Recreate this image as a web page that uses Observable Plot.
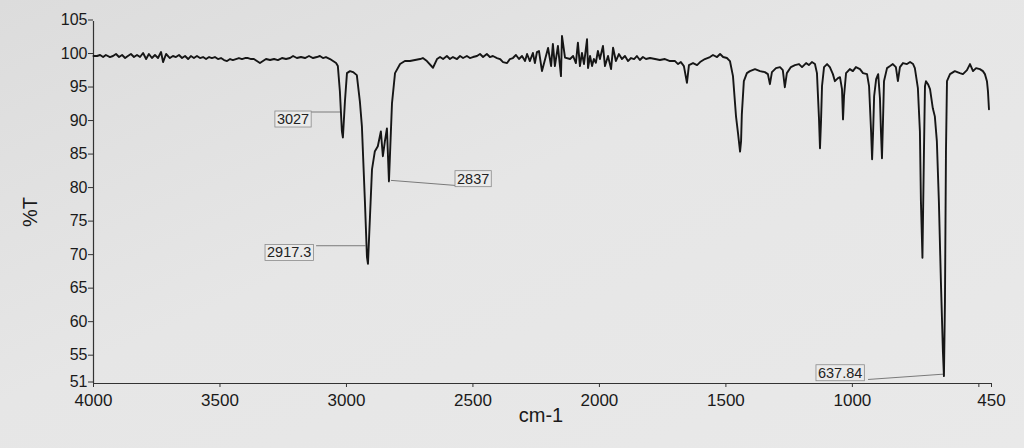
<!DOCTYPE html>
<html>
<head>
<meta charset="utf-8">
<script src="https://cdn.jsdelivr.net/npm/d3@7"></script>
<script src="https://cdn.jsdelivr.net/npm/@observablehq/plot@0.6"></script>
<style>
  html, body { margin: 0; padding: 0; }
  body { width: 1024px; height: 448px; overflow: hidden;
         background: linear-gradient(to bottom right, #dcdcdc, #e6e6e6 45%, #e9e9e9); }
  #chart { position: absolute; left: 0; top: 0; }
</style>
</head>
<body>
<div id="chart"></div>
<script>
// ---- spectrum (wavenumber cm-1, %T) ----
const wavenumber = [
  4000,3986,3974,3962,3951,3935,3923,3911,3899,3887,3875,3864,3852,3840,3828,3816,3804,3792,3781,3769,
  3757,3745,3733,3725,3713,3698,3686,3674,3662,3650,3638,3626,3615,3603,3591,3579,3567,3555,3543,3532,
  3520,3508,3496,3484,3472,3460,3449,3437,3425,3413,3401,3389,3377,3366,3354,3342,3330,3318,3302,3286,
  3271,3255,3239,3223,3211,3196,3180,3164,3148,3132,3117,3105,3093,3081,3065,3053,3041,3034,3026,3018,
  3014,3006,2998,2986,2974,2959,2947,2939,2927,2919,2915,2907,2899,2888,2876,2864,2856,2848,2840,2832,
  2820,2808,2788,2769,2749,2709,2698,2682,2658,2642,2630,2618,2603,2591,2579,2563,2551,2539,2524,2512,
  2500,2484,2472,2460,2445,2433,2421,2405,2393,2381,2365,2354,2342,2330,2318,2306,2294,2286,2275,2263,
  2255,2247,2239,2227,2203,2191,2184,2176,2164,2152,2148,2136,2116,2104,2093,2085,2077,2069,2061,2049,
  2045,2037,2029,2022,2014,2006,1998,1986,1978,1966,1954,1946,1935,1923,1911,1899,1887,1875,1863,1852,
  1840,1828,1816,1800,1780,1761,1741,1721,1701,1689,1678,1666,1654,1646,1630,1614,1602,1583,1563,1551,
  1535,1523,1511,1496,1484,1472,1460,1452,1444,1440,1437,1429,1417,1405,1385,1365,1346,1334,1326,1318,
  1302,1286,1275,1267,1259,1243,1227,1211,1199,1183,1172,1160,1148,1140,1132,1128,1124,1120,1112,1100,
  1089,1077,1069,1057,1049,1041,1037,1033,1025,1010,998,986,970,958,942,934,926,922,918,914,
  906,898,891,887,883,879,875,863,851,840,828,820,812,800,784,772,760,753,741,733,
  729,723,717,713,709,701,693,682,674,666,658,650,642,638,634,630,626,614,595,575,
  563,547,535,523,511,496,484,476,468,464,460
];
const transmittance = [
  99.85,99.85,100.0,99.7,100.0,99.7,99.85,100.15,99.7,100.0,99.55,99.85,100.15,99.7,100.0,99.7,100.3,99.4,100.15,99.55,
  100.0,99.55,100.45,98.95,100.15,99.55,99.85,99.7,100.0,99.55,99.85,99.4,99.85,99.55,99.85,99.55,99.7,99.4,99.7,99.55,
  99.7,99.4,99.55,99.25,99.1,99.4,99.25,99.4,99.55,99.4,99.55,99.55,99.4,99.4,99.1,98.8,99.1,99.4,99.25,99.4,
  99.25,99.55,99.4,99.55,99.85,99.55,99.7,99.55,99.85,99.55,99.7,99.85,99.55,99.7,99.4,99.1,98.8,98.35,94.6,88.6,
  87.7,93.1,97.3,97.6,97.45,97.0,93.1,89.4,78.1,69.9,68.85,75.9,82.95,85.6,86.4,88.6,84.9,87.15,89.05,81.15,
  92.8,97.3,98.65,99.1,99.1,99.4,99.55,99.1,98.1,99.4,99.7,99.4,99.85,99.4,99.7,99.4,99.85,99.55,99.85,99.55,
  99.7,99.85,100.15,99.7,100.15,99.7,99.85,99.55,99.4,98.95,98.8,99.4,99.55,100.0,99.4,99.85,99.1,100.15,99.1,100.3,
  98.8,100.45,100.6,97.6,101.05,98.35,101.65,98.35,101.35,96.85,102.85,99.6,99.4,99.85,98.8,101.85,98.35,100.3,98.65,102.35,
  98.05,99.85,98.35,99.4,98.85,100.6,99.4,101.35,98.35,99.85,97.9,101.1,99.1,100.15,99.4,99.85,99.1,99.55,99.4,99.85,
  99.25,99.7,99.4,99.55,99.4,99.25,99.4,99.1,99.1,98.65,98.95,98.35,95.85,98.5,98.8,98.5,98.95,99.4,99.7,100.0,
  99.7,100.15,99.7,99.55,99.1,96.85,90.85,88.3,85.6,87.15,91.15,96.1,97.3,97.6,97.9,97.6,97.45,97.15,95.65,97.45,
  98.05,98.2,97.75,95.2,97.3,98.2,98.5,98.65,98.2,98.8,98.5,98.95,98.65,97.3,90.55,86.1,90.1,95.35,98.2,98.65,
  98.2,97.15,96.1,96.55,96.7,94.9,90.4,93.85,97.3,97.9,97.6,98.2,97.9,97.3,97.15,95.35,88.6,84.45,88.6,93.85,
  96.4,97.15,93.55,88.6,84.6,90.1,96.1,98.05,98.35,98.65,98.2,96.1,98.2,98.8,98.65,98.95,98.65,98.05,95.05,88.6,
  78.15,69.75,85.6,95.35,96.1,95.65,94.9,92.05,90.85,87.15,78.15,66.15,55.7,52.1,63.2,85.6,96.1,97.15,97.6,97.3,
  97.15,97.75,98.65,97.6,98.05,97.9,97.6,97.15,96.1,94.6,91.9
];

// ---- axes ----
const xTicks = [4000, 3500, 3000, 2500, 2000, 1500, 1000, 500, 450];
const xTickLabels = ["4000", "3500", "3000", "2500", "2000", "1500", "1000", "", "450"];
const yTicks = [51, 55, 60, 65, 70, 75, 80, 85, 90, 95, 100, 105];
const xTitle = "cm-1";
const yTitle = "%T";

// ---- peak annotations ----
const peakLabels = ["3027", "2917.3", "2837", "637.84"];
const labelWn = [3275, 3314, 2563, 1136];
const labelT = [90.4, 70.5, 81.5, 52.55];
const leaderFromWn = [3199, 3120, 2824, 938];
const leaderFromT = [91.5, 71.55, 81.3, 51.6];
const leaderToWn = [3022, 2925, 2571, 638];
const leaderToT = [91.5, 71.55, 80.55, 52.4];

const spectrum = wavenumber.map((w, i) => ({w, t: transmittance[i]}));
const annotations = peakLabels.map((s, i) => ({
  s, lx: labelWn[i], ly: labelT[i],
  x1: leaderFromWn[i], y1: leaderFromT[i], x2: leaderToWn[i], y2: leaderToT[i]
}));

const chart = Plot.plot({
  width: 1024,
  height: 448,
  marginLeft: 93,
  marginRight: 33,
  marginTop: 21,
  marginBottom: 65,
  style: {fontFamily: "'Liberation Sans', Arial, sans-serif", background: "transparent", color: "#1a1a1a"},
  x: {type: "linear", domain: [4000, 450]},
  y: {domain: [51, 105]},
  marks: [
    Plot.axisY({ticks: yTicks, tickSize: 5, tickPadding: 1, fontSize: 16, dy: -1.5, label: null, stroke: "#333"}),
    Plot.axisX({ticks: xTicks, tickSize: 4, tickPadding: 6, fontSize: 17, label: null, stroke: "#333",
                tickFormat: d => xTickLabels[xTicks.indexOf(d)]}),
    Plot.ruleX([4000], {stroke: "#333", strokeWidth: 1.2}),
    Plot.ruleY([51], {stroke: "#333", strokeWidth: 1.2}),
    Plot.link(annotations, {x1: "x1", y1: "y1", x2: "x2", y2: "y2", stroke: "#7a7a7a", strokeWidth: 1}),
    Plot.line(spectrum, {x: "w", y: "t", stroke: "#161616", strokeWidth: 1.9, strokeLinejoin: "round"}),
    Plot.text(annotations, {x: "lx", y: "ly", text: "s", textAnchor: "start", fontSize: 14.5,
                            fill: "#222", className: "anno"})
  ]
});

document.getElementById("chart").appendChild(chart);

// boxes behind the peak labels (same transform as the text they frame)
d3.select(chart).selectAll("g.anno text").each(function() {
  const b = this.getBBox();
  const r = d3.select(this.parentNode).insert("rect", () => this)
    .attr("x", b.x - 2).attr("y", b.y)
    .attr("width", b.width + 4).attr("height", b.height)
    .attr("fill", "#ebebeb").attr("stroke", "#8a8a8a").attr("stroke-width", 0.8);
  const tf = this.getAttribute("transform");
  if (tf) r.attr("transform", tf);
});

// axis titles
const svg = d3.select(chart);
svg.append("text").text(xTitle)
  .attr("x", 541).attr("y", 422).attr("text-anchor", "middle")
  .attr("font-size", 20).attr("fill", "#1a1a1a");
svg.append("text").text(yTitle)
  .attr("transform", "translate(37,212) rotate(-90)").attr("text-anchor", "middle")
  .attr("font-size", 20).attr("fill", "#1a1a1a");
</script>
</body>
</html>
